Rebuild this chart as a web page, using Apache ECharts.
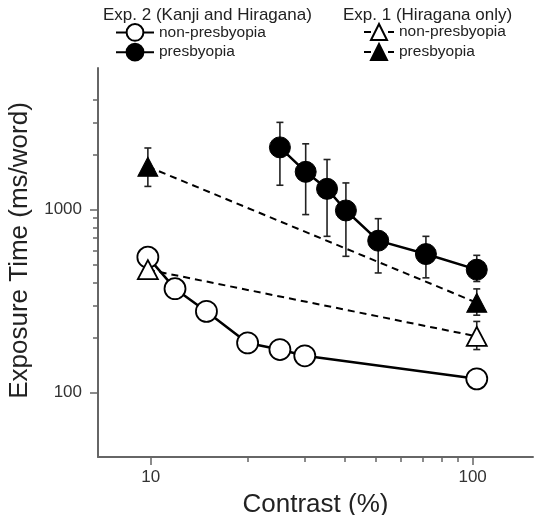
<!DOCTYPE html>
<html>
<head>
<meta charset="utf-8">
<script src="https://cdn.jsdelivr.net/npm/echarts@6.0.0/dist/echarts.min.js"></script>
<style>
  html, body { margin: 0; padding: 0; background: #fff; }
  #chart { width: 534px; height: 515px; }
</style>
</head>
<body>
<div id="chart"></div>
<script>
// Exp. 2 (Kanji and Hiragana)
var exp2NonContrast = [9.8, 11.9, 14.9, 20, 25.2, 30.1, 103];
var exp2NonTime = [550, 370, 278, 187, 172, 159, 119];
var exp2PresContrast = [25.2, 30.3, 35.3, 40.4, 50.9, 71.6, 103];
var exp2PresTime = [2190, 1610, 1300, 990, 677, 572, 470];
var exp2PresLow = [1360, 940, 715, 556, 451, 424, 405];
var exp2PresHigh = [3000, 2290, 1880, 1400, 893, 715, 563];

// Exp. 1 (Hiragana only)
var exp1Contrast = [9.8, 103];
var exp1NonTime = [470, 203];
var exp1NonLow = [470, 172];
var exp1NonHigh = [470, 245];
var exp1PresTime = [1718, 310];
var exp1PresLow = [1340, 265];
var exp1PresHigh = [2173, 369];

// axis ticks
var xMajorTicks = [10, 100];
var xMinorTicks = [20, 30, 40, 50, 60, 70, 80, 90];
var yMajorTicks = [100, 1000];
var yMinorTicks = [200, 300, 400, 500, 600, 700, 800, 900, 2000, 3000, 4000];

var legendNames = {
  e2non: 'non-presbyopia',
  e2pres: 'presbyopia',
  e1non: 'non-presbyopia',
  e1pres: 'presbyopia'
};

function pairs(xs, ys) {
  return xs.map(function (x, i) { return [x, ys[i]]; });
}
function errRows(xs, lo, hi) {
  return xs.map(function (x, i) { return [x, lo[i], hi[i]]; });
}

var errData = errRows(exp2PresContrast, exp2PresLow, exp2PresHigh)
  .concat(errRows(exp1Contrast, exp1NonLow, exp1NonHigh))
  .concat(errRows(exp1Contrast, exp1PresLow, exp1PresHigh));

var font = 'Liberation Sans, Arial, sans-serif';
var axisGray = '#666';

var xRange = { min: 6.86, max: 154 };
var yRange = { min: 44.5, max: 5946 };

function plainNum(v) { return String(Math.round(v)); }

function renderErr(params, api) {
  var x = api.value(0);
  var top = api.coord([x, api.value(2)]);
  var bot = api.coord([x, api.value(1)]);
  var w = 3.5;
  var st = { stroke: '#222', lineWidth: 1.6 };
  return {
    type: 'group',
    children: [
      { type: 'line', shape: { x1: top[0], y1: top[1], x2: bot[0], y2: bot[1] }, style: st },
      { type: 'line', shape: { x1: top[0] - w, y1: top[1], x2: top[0] + w, y2: top[1] }, style: st },
      { type: 'line', shape: { x1: bot[0] - w, y1: bot[1], x2: bot[0] + w, y2: bot[1] }, style: st }
    ]
  };
}

var option = {
  backgroundColor: '#fff',
  animation: false,
  textStyle: { fontFamily: font },
  title: [
    { text: 'Exp. 2 (Kanji and Hiragana)', left: 103, top: 7, padding: 0,
      textStyle: { fontFamily: font, fontSize: 17, fontWeight: 'normal', color: '#222' } },
    { text: 'Exp. 1 (Hiragana only)', left: 343, top: 7, padding: 0,
      textStyle: { fontFamily: font, fontSize: 17, fontWeight: 'normal', color: '#222' } }
  ],
  legend: [
    {
      data: ['e2non', 'e2pres'],
      orient: 'vertical', left: 115, top: 23, padding: 0,
      itemWidth: 38, itemHeight: 21, itemGap: 1,
      formatter: function (n) { return legendNames[n]; },
      textStyle: { fontFamily: font, fontSize: 15.5, color: '#222' },
      selectedMode: false
    },
    {
      data: ['e1non', 'e1pres'],
      orient: 'vertical', left: 363, top: 23, padding: 0,
      itemWidth: 30, itemHeight: 20, itemGap: 2,
      formatter: function (n) { return legendNames[n]; },
      textStyle: { fontFamily: font, fontSize: 15.5, color: '#222' },
      selectedMode: false
    }
  ],
  grid: { left: 98, right: 1, top: 68, bottom: 58, outerBoundsMode: 'none' },
  xAxis: [
    {
      type: 'log', position: 'bottom', min: xRange.min, max: xRange.max,
      name: 'Contrast (%)', nameLocation: 'middle', nameGap: 35,
      nameTextStyle: { fontFamily: font, fontSize: 26, color: '#222' },
      axisLine: { show: true, lineStyle: { color: axisGray, width: 2 } },
      axisTick: { show: true, length: 8, customValues: xMajorTicks, lineStyle: { color: axisGray, width: 1.5 } },
      axisLabel: { show: true, customValues: xMajorTicks, formatter: plainNum, margin: 12, fontSize: 17, color: '#333', fontFamily: font },
      splitLine: { show: false }
    },
    {
      type: 'log', position: 'bottom', min: xRange.min, max: xRange.max,
      axisLine: { show: false },
      axisTick: { show: true, length: 5, customValues: xMinorTicks, lineStyle: { color: axisGray, width: 1.5 } },
      axisLabel: { show: false },
      splitLine: { show: false }
    }
  ],
  yAxis: [
    {
      type: 'log', position: 'left', min: yRange.min, max: yRange.max,
      name: 'Exposure Time (ms/word)', nameLocation: 'middle', nameGap: 64,
      nameTextStyle: { fontFamily: font, fontSize: 26, color: '#222', padding: [0, 0, 0, 24] },
      axisLine: { show: true, lineStyle: { color: axisGray, width: 2 } },
      axisTick: { show: true, length: 8, customValues: yMajorTicks, lineStyle: { color: axisGray, width: 1.5 } },
      axisLabel: { show: true, customValues: yMajorTicks, formatter: plainNum, margin: 16, fontSize: 17, color: '#333', fontFamily: font },
      splitLine: { show: false }
    },
    {
      type: 'log', position: 'left', min: yRange.min, max: yRange.max,
      axisLine: { show: false },
      axisTick: { show: true, length: 5, customValues: yMinorTicks, lineStyle: { color: axisGray, width: 1.5 } },
      axisLabel: { show: false },
      splitLine: { show: false }
    }
  ],
  series: [
    {
      type: 'custom', name: 'err', xAxisIndex: 0, yAxisIndex: 0, z: 1,
      renderItem: renderErr, data: errData, encode: { x: 0, y: [1, 2] }
    },
    {
      type: 'line', name: 'e2non', z: 2, data: pairs(exp2NonContrast, exp2NonTime),
      symbol: 'circle', symbolSize: 21,
      lineStyle: { color: '#000', width: 2.5 },
      itemStyle: { color: '#fff', borderColor: '#000', borderWidth: 1.8 }
    },
    {
      type: 'line', name: 'e2pres', z: 3, data: pairs(exp2PresContrast, exp2PresTime),
      symbol: 'circle', symbolSize: 21,
      lineStyle: { color: '#000', width: 2.5 },
      itemStyle: { color: '#000', borderColor: '#000', borderWidth: 1 }
    },
    {
      type: 'line', name: 'e1non', z: 4, data: pairs(exp1Contrast, exp1NonTime),
      symbol: 'triangle', symbolSize: [20, 19],
      lineStyle: { color: '#000', width: 2, type: [7, 5] },
      itemStyle: { color: '#fff', borderColor: '#000', borderWidth: 1.8 }
    },
    {
      type: 'line', name: 'e1pres', z: 5, data: pairs(exp1Contrast, exp1PresTime),
      symbol: 'triangle', symbolSize: [20, 19],
      lineStyle: { color: '#000', width: 2, type: [7, 5] },
      itemStyle: { color: '#000', borderColor: '#000', borderWidth: 1 }
    }
  ]
};

var chart = echarts.init(document.getElementById('chart'), null, { renderer: 'canvas' });
chart.setOption(option);
</script>
</body>
</html>
